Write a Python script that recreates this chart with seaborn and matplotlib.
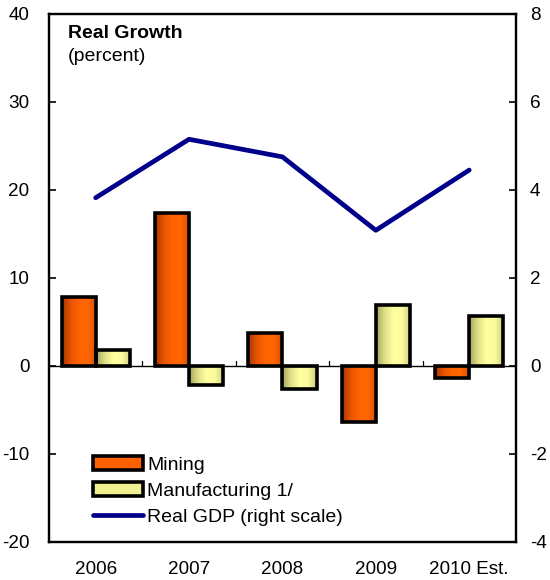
import numpy as np
import pandas as pd
import matplotlib
matplotlib.use("Agg")
import matplotlib.pyplot as plt
import seaborn as sns
from matplotlib.colors import LinearSegmentedColormap
from matplotlib.patches import Patch
from matplotlib.lines import Line2D

# data
years = ["2006", "2007", "2008", "2009", "2010 Est."]
mining = [7.8, 17.4, 3.7, -6.4, -1.4]
manufacturing = [1.8, -2.2, -2.6, 6.9, 5.7]
real_gdp = [3.82, 5.15, 4.75, 3.08, 4.45]

sns.set_style("white")
plt.rcParams["font.family"] = ["Liberation Sans", "DejaVu Sans"]
plt.rcParams["font.size"] = 13.6
plt.rcParams["axes.unicode_minus"] = False
plt.rcParams["axes.edgecolor"] = "black"
plt.rcParams["text.color"] = "black"
plt.rcParams["xtick.color"] = "black"
plt.rcParams["ytick.color"] = "black"

df = pd.DataFrame({
    "year": years * 2,
    "value": mining + manufacturing,
    "series": ["Mining"] * 5 + ["Manufacturing 1/"] * 5,
})

fig = plt.figure(figsize=(5.5, 5.8), dpi=100)
ax = fig.add_axes([0.089, 0.066, 0.849, 0.91])

sns.barplot(data=df, x="year", y="value", hue="series", ax=ax,
            palette=["#ff6000", "#ffff99"], width=0.73,
            edgecolor="black", linewidth=2.6, legend=False)

# horizontal gradient fill inside each bar
orange_cm = LinearSegmentedColormap.from_list(
    "o", ["#a83800", "#e85400", "#ff6400", "#ff6600", "#d84c00"])
yellow_cm = LinearSegmentedColormap.from_list(
    "y", ["#a4a45c", "#e0e088", "#ffffa0", "#fbfb9c", "#cccc84"])
grad = np.linspace(0, 1, 64).reshape(1, -1)
for i, p in enumerate(ax.patches):
    cm = orange_cm if i < len(years) else yellow_cm
    x0, y0 = p.get_x(), p.get_y()
    w, h = p.get_width(), p.get_height()
    im = ax.imshow(grad, cmap=cm, aspect="auto", zorder=1,
                   extent=[x0, x0 + w, min(y0, y0 + h), max(y0, y0 + h)])
    im.set_clip_path(p)
    p.set_facecolor("none")
    p.set_zorder(2)

ax.axhline(0, color="black", lw=1, zorder=1.5)
for k in range(len(years) - 1):
    ax.plot([k + 0.5, k + 0.5], [0, 0.5], color="black", lw=0.9, zorder=1.5)

ax.set_xlim(-0.5, len(years) - 0.5)
ax.set_ylim(-20, 40)
ax.set_yticks(range(-20, 41, 10))
ax.set_xlabel("")
ax.set_ylabel("")
ax.tick_params(axis="y", direction="in", length=5, width=1.2, left=True, pad=14)
ax.tick_params(axis="x", length=0, pad=14)
for s in ax.spines.values():
    s.set_color("black")
    s.set_linewidth(1.6)

ax2 = ax.twinx()
sns.lineplot(x=years, y=real_gdp, ax=ax2, color="#00008b", lw=3.4,
             solid_capstyle="round", sort=False)
ax2.set_ylim(-4, 8)
ax2.set_yticks(range(-4, 9, 2))
ax2.set_ylabel("")
ax2.tick_params(axis="y", direction="in", length=5, width=1.2, right=True, pad=10)
for s in ax2.spines.values():
    s.set_color("black")
    s.set_linewidth(1.6)

ax.text(0.04, 0.979, "Real Growth", transform=ax.transAxes,
        fontweight="bold", va="top", ha="left", fontsize=14)
ax.text(0.04, 0.935, "(percent)", transform=ax.transAxes, va="top", ha="left",
        fontsize=14)

handles = [
    Patch(facecolor="#ff6000", edgecolor="black", linewidth=2.6),
    Patch(facecolor="#f0f090", edgecolor="black", linewidth=2.6),
    Line2D([0], [0], color="#00008b", lw=3.4, solid_capstyle="round"),
]
ax2.legend(handles, ["Mining", "Manufacturing 1/", "Real GDP (right scale)"],
           loc="lower left", bbox_to_anchor=(0.094, 0.03), frameon=False,
           handlelength=2.6, handleheight=0.75, handletextpad=0.2,
           labelspacing=0.42, borderaxespad=0, borderpad=0, fontsize=14)

fig.savefig("out.png", dpi=100)
